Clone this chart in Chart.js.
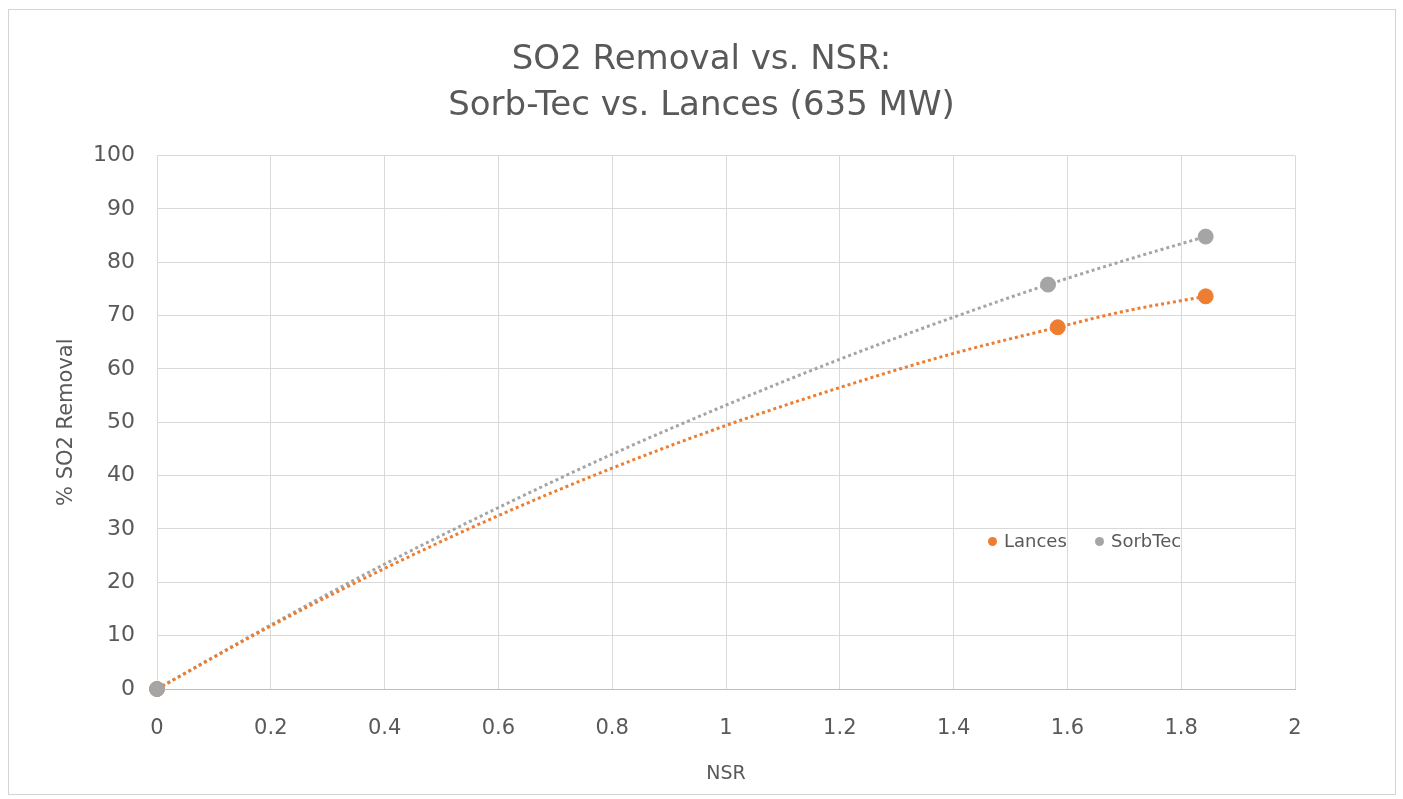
<!DOCTYPE html>
<html>
<head>
<meta charset="utf-8">
<script src="https://cdn.jsdelivr.net/npm/chart.js@4.4.0/dist/chart.umd.min.js"></script>
<style>
  html, body { margin: 0; padding: 0; background: #fff; }
  #wrap { position: relative; width: 1403px; height: 799px; }
  #frame { position: absolute; left: 8px; top: 9px; width: 1388px; height: 786px; border: 1px solid #d4d4d4; box-sizing: border-box; }
  #chart { position: absolute; left: 0; top: 0; }
  .lg { position: absolute; top: 530px; height: 22px; line-height: 22px; font-family: 'DejaVu Sans', sans-serif; font-size: 18px; color: #595959; white-space: nowrap; }
  .dot { position: absolute; top: 537px; width: 9px; height: 9px; border-radius: 50%; }
</style>
</head>
<body>
<div id="wrap">
  <div id="frame"></div>
  <canvas id="chart" width="1403" height="799"></canvas>
  <div class="dot" style="left:988px;background:#ED7D31"></div>
  <div class="lg" style="left:1004px">Lances</div>
  <div class="dot" style="left:1095px;background:#A5A5A5"></div>
  <div class="lg" style="left:1111px">SorbTec</div>
</div>
<script>
// ── measured points ──
const lancesX = [0, 1.583, 1.843];
const lancesY = [0, 67.8, 73.6];
const sorbX = [0, 1.566, 1.843];
const sorbY = [0, 75.8, 84.8];

// ── dotted trend curves ──
const lancesTrendX = [0, 0.2, 0.4, 0.6, 0.8, 1.0, 1.2, 1.4, 1.583, 1.7, 1.843];
const lancesTrendY = [0, 11.8, 22.6, 32.5, 41.4, 49.4, 56.5, 62.9, 67.8, 70.8, 73.6];
const sorbTrendX = [0, 0.2, 0.4, 0.6, 0.8, 1.0, 1.2, 1.4, 1.566, 1.7, 1.843];
const sorbTrendY = [0, 12.0, 23.4, 34.0, 44.0, 53.2, 61.8, 69.7, 75.8, 80.3, 84.8];

const ORANGE = '#ED7D31';
const GRAY = '#A5A5A5';
const TXT = '#595959';
const FONT = "'DejaVu Sans', sans-serif";

function pts(xs, ys) {
  return xs.map((x, i) => ({ x: x, y: ys[i] }));
}

const ctx = document.getElementById('chart').getContext('2d');
new Chart(ctx, {
  type: 'scatter',
  data: {
    datasets: [
      {
        label: 'Lances trend',
        type: 'line',
        data: pts(lancesTrendX, lancesTrendY),
        borderColor: ORANGE,
        borderWidth: 3,
        borderDash: [3, 3],
        pointRadius: 0,
        fill: false,
        cubicInterpolationMode: 'monotone',
        order: 3
      },
      {
        label: 'SorbTec trend',
        type: 'line',
        data: pts(sorbTrendX, sorbTrendY),
        borderColor: GRAY,
        borderWidth: 3,
        borderDash: [3, 3],
        pointRadius: 0,
        fill: false,
        cubicInterpolationMode: 'monotone',
        order: 4
      },
      {
        label: 'Lances',
        data: pts(lancesX, lancesY),
        backgroundColor: ORANGE,
        borderColor: ORANGE,
        pointRadius: 7.5,
        clip: false,
        order: 2
      },
      {
        label: 'SorbTec',
        data: pts(sorbX, sorbY),
        backgroundColor: GRAY,
        borderColor: GRAY,
        pointRadius: 7.5,
        clip: false,
        order: 1
      }
    ]
  },
  options: {
    responsive: false,
    animation: false,
    layout: { padding: { left: 10, right: 10, top: 28, bottom: 10 } },
    plugins: {
      legend: { display: false },
      tooltip: { enabled: false },
      title: {
        display: true,
        text: ['SO2 Removal vs. NSR:', 'Sorb-Tec vs. Lances (635 MW)'],
        color: TXT,
        font: { family: FONT, size: 34, weight: 'normal', lineHeight: 1.36 },
        padding: { top: 9, bottom: 26 }
      }
    },
    scales: {
      x: {
        type: 'linear',
        min: 0,
        max: 2,
        afterFit: s => { s.height = 100; },
        ticks: {
          stepSize: 0.2,
          color: TXT,
          font: { family: FONT, size: 21 },
          padding: 27,
          callback: v => String(Math.round(v * 10) / 10)
        },
        grid: { color: '#D9D9D9', lineWidth: 1, drawTicks: false },
        border: { color: '#BFBFBF', width: 1 },
        title: {
          display: true,
          text: 'NSR',
          color: TXT,
          font: { family: FONT, size: 19 },
          padding: { top: 18 }
        }
      },
      y: {
        min: 0,
        max: 100,
        afterFit: s => { s.width = 147; },
        ticks: {
          stepSize: 10,
          color: TXT,
          font: { family: FONT, size: 22 },
          padding: 22
        },
        grid: { color: '#D9D9D9', lineWidth: 1, drawTicks: false },
        border: { color: '#D9D9D9', width: 1 },
        title: {
          display: true,
          text: '% SO2 Removal',
          color: TXT,
          font: { family: FONT, size: 21 },
          padding: { top: 44, bottom: 0 }
        }
      },
      // empty right-hand band so the title centres on the whole frame
      yPad: {
        position: 'right',
        afterFit: s => { s.width = 98; },
        ticks: { display: false },
        grid: { display: false },
        border: { display: false }
      }
    }
  }
});
</script>
</body>
</html>
